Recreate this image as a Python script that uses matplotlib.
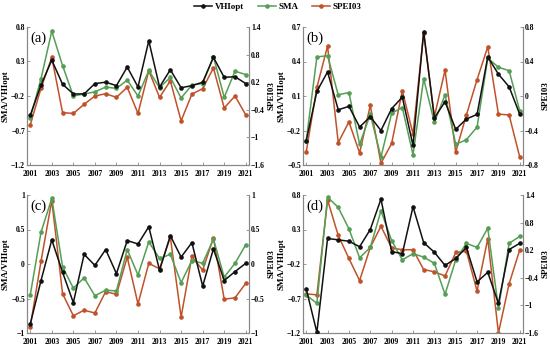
import matplotlib
matplotlib.use('Agg')
import matplotlib.pyplot as plt
from matplotlib.lines import Line2D

years = list(range(2001, 2022))
xticks = list(range(2001, 2022, 2))

# panel (a)
vhi_a = [-0.48, -0.04, 0.32, -0.03, -0.17, -0.17, -0.02, 0.0, -0.05, 0.22, -0.07,
         0.60, -0.07, 0.18, -0.08, -0.05, 0.0, 0.36, 0.07, 0.08, -0.02]
sma_a = [-0.52, 0.05, 0.74, 0.24, -0.20, -0.17, -0.14, -0.07, -0.09, 0.03, -0.20,
         0.17, -0.08, 0.07, -0.23, -0.04, -0.02, 0.37, -0.22, 0.16, 0.11]
spei_a = [-0.73, 0.07, 0.74, -0.46, -0.48, -0.28, -0.10, -0.05, -0.13, 0.09, -0.48,
          0.45, -0.13, 0.23, -0.64, -0.06, 0.06, 0.51, -0.36, -0.10, -0.51]

# panel (b)
vhi_b = [-0.29, 0.14, 0.31, -0.02, 0.01, -0.17, -0.08, -0.20, -0.01, 0.09, -0.33,
         0.66, -0.09, 0.05, -0.19, -0.10, -0.06, 0.44, 0.29, 0.18, -0.06]
sma_b = [-0.29, 0.44, 0.45, 0.11, 0.13, -0.32, -0.06, -0.43, -0.05, 0.0, -0.41,
         0.25, -0.13, 0.11, -0.32, -0.28, -0.17, 0.43, 0.35, 0.32, -0.03]
spei_b = [-0.65, 0.10, 0.58, -0.54, -0.30, -0.66, -0.11, -0.78, -0.55, 0.06, -0.44,
          0.73, -0.24, 0.30, -0.65, -0.22, 0.19, 0.57, -0.21, -0.22, -0.71]

# panel (c)
vhi_c = [-0.87, -0.24, 0.35, -0.12, -0.56, 0.14, -0.02, 0.21, -0.14, 0.34, 0.29,
         0.54, -0.09, 0.41, 0.10, 0.31, -0.32, 0.22, -0.24, -0.11, 0.01]
sma_c = [-0.45, 0.46, 0.95, -0.04, -0.35, -0.20, -0.46, -0.38, -0.39, 0.21, -0.16,
         0.32, 0.08, 0.14, -0.27, 0.05, 0.01, 0.36, -0.19, 0.01, 0.28]
spei_c = [-0.91, 0.04, 0.92, -0.43, -0.75, -0.67, -0.71, -0.40, -0.44, 0.10, -0.58,
          0.01, -0.07, 0.39, -0.77, 0.11, -0.09, 0.38, -0.51, -0.49, -0.28]

# panel (d)
vhi_d = [-0.56, -1.19, 0.17, 0.15, 0.13, 0.05, 0.30, 0.74, -0.02, -0.05, 0.63,
         0.11, -0.03, -0.22, -0.12, 0.04, -0.46, -0.32, -0.77, 0.01, 0.10]
sma_d = [-0.65, -0.77, 0.77, 0.62, 0.31, -0.11, 0.04, 0.57, 0.14, -0.14, -0.05,
         -0.10, -0.19, -0.64, -0.14, 0.10, 0.04, 0.32, -0.84, 0.10, 0.20]
spei_d = [-0.75, -0.77, 1.29, 0.52, 0.02, -0.46, 0.26, 0.72, 0.25, 0.21, 0.21,
          -0.22, -0.27, -0.36, 0.15, 0.18, -0.69, 0.45, -1.60, -0.53, 0.21]

left_ticks = {
    'a': [-1.2, -0.7, -0.2, 0.3, 0.8],
    'b': [-0.5, -0.2, 0.1, 0.4, 0.7],
    'c': [-1, -0.5, 0, 0.5, 1],
    'd': [-1.2, -0.7, -0.2, 0.3, 0.8],
}
right_ticks = {
    'a': [-1.6, -1, -0.4, 0.2, 0.8, 1.4],
    'b': [-0.8, -0.4, 0, 0.4, 0.8],
    'c': [-1, -0.5, 0, 0.5, 1],
    'd': [-1.6, -1, -0.4, 0.2, 0.8, 1.4],
}

panels = [('a', vhi_a, sma_a, spei_a), ('b', vhi_b, sma_b, spei_b),
          ('c', vhi_c, sma_c, spei_c), ('d', vhi_d, sma_d, spei_d)]

BLACK = '#111111'
GREEN = '#559e55'
ORANGE = '#c0522a'
SPINE = '#888888'

plt.rcParams['font.family'] = ['Liberation Serif', 'DejaVu Serif']

fig = plt.figure(figsize=(5.5, 3.45), dpi=100)

# axes boxes in figure pixels: left, right, top, bottom
boxes = {
    'a': (27, 249, 27, 165),
    'b': (303, 523, 27, 165),
    'c': (27, 249, 195, 333),
    'd': (303, 523, 195, 333),
}
W, H = 550, 345


def fmt(v):
    s = ('%g' % v)
    return s.replace('-', '\u2212')


for key, vhi, sma, spei in panels:
    l, r, t, b = boxes[key]
    ax = fig.add_axes([l / W, 1 - b / H, (r - l) / W, (b - t) / H])
    ax2 = ax.twinx()

    ax2.plot(years, spei, color=ORANGE, lw=1.1, marker='o', ms=2.3, zorder=2)
    ax.plot(years, sma, color=GREEN, lw=1.1, marker='o', ms=2.3, zorder=3)
    ax.plot(years, vhi, color=BLACK, lw=1.1, marker='o', ms=2.3, zorder=4)
    ax.set_zorder(ax2.get_zorder() + 1)
    ax.patch.set_visible(False)

    lt = left_ticks[key]
    rt = right_ticks[key]
    ax.set_ylim(lt[0], lt[-1])
    ax2.set_ylim(rt[0], rt[-1])
    ax.set_yticks(lt)
    ax.set_yticklabels([fmt(v) for v in lt])
    ax2.set_yticks(rt)
    ax2.set_yticklabels([fmt(v) for v in rt])
    ax.set_xlim(2000.7, 2021.3)
    ax.set_xticks(xticks)
    ax.set_xticklabels([str(y) for y in xticks])

    for a in (ax, ax2):
        a.spines['top'].set_visible(False)
        for s in ('left', 'right', 'bottom'):
            a.spines[s].set_color(SPINE)
            a.spines[s].set_linewidth(0.8)
        a.tick_params(axis='both', which='both', direction='in', length=2,
                      width=0.6, color=SPINE, labelsize=5.5, pad=1.5)
        for lab in a.get_xticklabels() + a.get_yticklabels():
            lab.set_fontweight('bold')
    ax.tick_params(axis='x', pad=3.5)

    ax.set_ylabel('SMA/VHIopt', fontsize=6.5, fontweight='bold', labelpad=1)
    ax2.set_ylabel('SPEI03', fontsize=6.5, fontweight='bold', labelpad=2)
    ax.text(0.015, 0.97, '(%s)' % key, transform=ax.transAxes, fontsize=10.5,
            ha='left', va='top', zorder=10)

handles = [
    Line2D([], [], color=BLACK, lw=1.1, marker='o', ms=2.3, label='VHIopt'),
    Line2D([], [], color=GREEN, lw=1.1, marker='o', ms=2.3, label='SMA'),
    Line2D([], [], color=ORANGE, lw=1.1, marker='o', ms=2.3, label='SPEI03'),
]
leg = fig.legend(handles=handles, loc='center', bbox_to_anchor=(278 / W, 1 - 7 / H),
                 ncol=3, frameon=False, fontsize=6.5, handlelength=2.0,
                 columnspacing=1.5, handletextpad=0.3)
for txt in leg.get_texts():
    txt.set_fontweight('bold')

fig.savefig('out.png', dpi=100)
